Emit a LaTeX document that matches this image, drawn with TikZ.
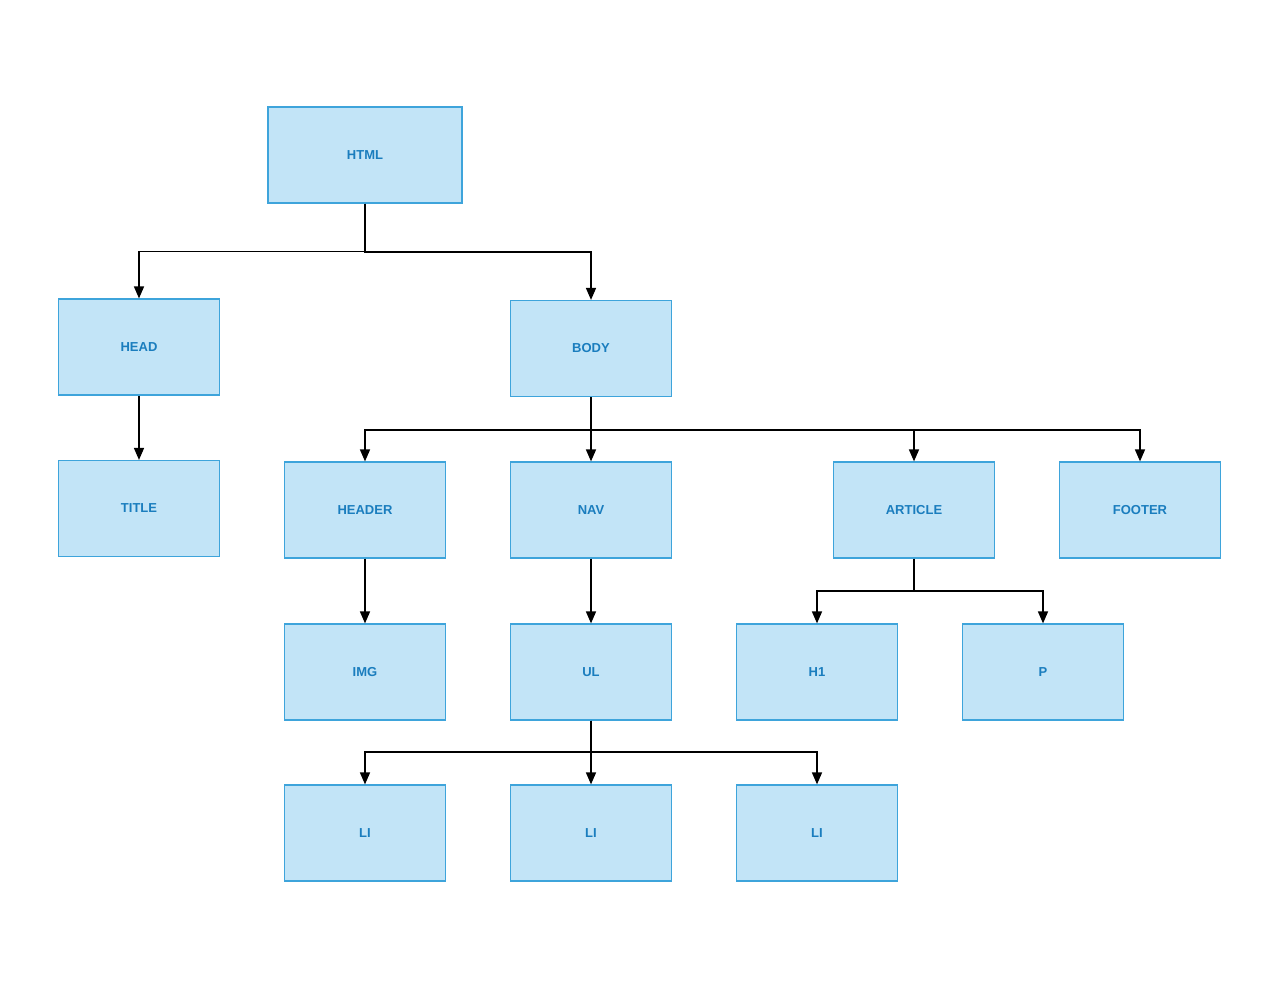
\documentclass[tikz,border=0pt]{standalone}
\usepackage{fontspec}
\setmainfont{Liberation Sans}
\usetikzlibrary{arrows.meta}
\definecolor{boxfill}{HTML}{C2E4F7}
\definecolor{boxline}{HTML}{3EA4DB}
\definecolor{boxtext}{HTML}{1A7DBE}
\begin{document}
\begin{tikzpicture}[x=1pt,y=-1pt,
  elem/.style={draw=boxline,fill=boxfill,line width=1.2pt,minimum width=161pt,minimum height=96pt,
    inner sep=0pt,text=boxtext,font=\fontsize{13}{15}\selectfont\bfseries},
  wide/.style={minimum width=194pt},
  conn/.style={draw=black,line width=1.5pt,-{Triangle[length=12pt,width=10pt]}},
  plain/.style={draw=black,line width=1.5pt}]
\useasboundingbox (0,0) rectangle (1280,989);
\node[elem,wide] (html) at (365,155) {HTML};
\node[elem] (head) at (139,347) {HEAD};
\node[elem] (body) at (591,348.5) {BODY};
\node[elem] (title) at (139,508.5) {TITLE};
\node[elem] (header) at (365,510) {HEADER};
\node[elem] (nav) at (591,510) {NAV};
\node[elem] (article) at (914,510) {ARTICLE};
\node[elem] (footer) at (1140,510) {FOOTER};
\node[elem] (img) at (365,672) {IMG};
\node[elem] (ul) at (591,672) {UL};
\node[elem] (h1) at (817,672) {H1};
\node[elem] (p) at (1043,672) {P};
\node[elem] (li1) at (365,833) {LI};
\node[elem] (li2) at (591,833) {LI};
\node[elem] (li3) at (817,833) {LI};
% HTML
\draw[conn] (html.south) -- ++(0,48) -| (head.north);
\draw[conn] (html.south) |- (591,252) -- (body.north);
% HEAD
\draw[conn] (head.south) -- (title.north);
% BODY
\draw[plain] (body.south) -- (591,430);
\draw[conn] (591,430) -| (header.north);
\draw[conn] (body.south) -- (nav.north);
\draw[conn] (591,430) -| (article.north);
\draw[conn] (591,430) -| (footer.north);
% HEADER, NAV
\draw[conn] (header.south) -- (img.north);
\draw[conn] (nav.south) -- (ul.north);
% ARTICLE
\draw[plain] (article.south) -- (914,591);
\draw[conn] (914,591) -| (h1.north);
\draw[conn] (914,591) -| (p.north);
% UL
\draw[plain] (ul.south) -- (591,752);
\draw[conn] (591,752) -| (li1.north);
\draw[conn] (ul.south) -- (li2.north);
\draw[conn] (591,752) -| (li3.north);
\end{tikzpicture}
\end{document}
